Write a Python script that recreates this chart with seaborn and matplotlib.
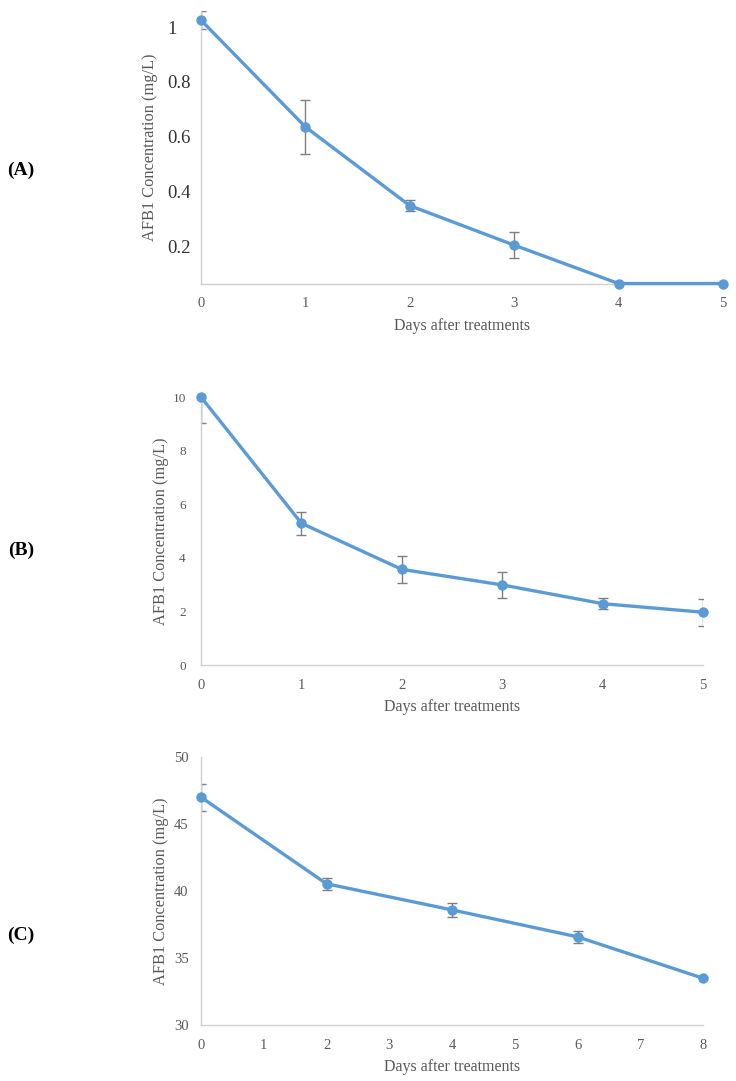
#Concentración de AFB1 vs días después de los tratamientos
import pandas as pd
import numpy as np
import seaborn as sns
import matplotlib.pyplot as plt

#Datos
days_a = [0, 1, 2, 3, 4, 5]
conc_a = [1.025, 0.636, 0.349, 0.205, 0.065, 0.065]
err_a = [0.033, 0.097, 0.02, 0.048, 0.0, 0.0]

days_b = [0, 1, 2, 3, 4, 5]
conc_b = [10.0, 5.29, 3.57, 2.99, 2.29, 1.97]
err_b = [0.95, 0.43, 0.51, 0.5, 0.2, 0.5]

days_c = [0, 2, 4, 6, 8]
conc_c = [47.0, 40.54, 38.59, 36.58, 33.49]
err_c = [1.0, 0.44, 0.5, 0.47, 0.0]

yticks_a = [0.2, 0.4, 0.6, 0.8, 1]
yticklabels_a = ['0.2', '0.4', '0.6', '0.8', '1']
yticks_b = [0, 2, 4, 6, 8, 10]
yticks_c = [30, 35, 40, 45, 50]
xticks_ab = [0, 1, 2, 3, 4, 5]
xticks_c = [0, 1, 2, 3, 4, 5, 6, 7, 8]

panel_labels = ['(A)', '(B)', '(C)']
xlabel = 'Days after treatments'
ylabel = 'AFB1 Concentration (mg/L)'

sns.set_style("white")
plt.rcParams['font.family'] = ['Liberation Serif', 'DejaVu Serif']

azul = '#5B9BD5'
gris_texto = '#595959'

fig = plt.figure(figsize=(7.36, 10.81), dpi=100)
ax_a = fig.add_axes([0.2731, 0.7377, 0.7092, 0.2525])
ax_b = fig.add_axes([0.2731, 0.3848, 0.6821, 0.2479])
ax_c = fig.add_axes([0.2731, 0.0518, 0.6821, 0.2479])

# (eje, x, y, error, ylim, yticks, etiquetas, xticks, xmax, tamaño ytick, pad ytick)
paneles = [
    (ax_a, days_a, conc_a, err_a, (0.065, 1.06), yticks_a, yticklabels_a, xticks_ab, 5, 13.5, 24),
    (ax_b, days_b, conc_b, err_b, (0, 10), yticks_b, [str(t) for t in yticks_b], xticks_ab, 5, 9.5, 11),
    (ax_c, days_c, conc_c, err_c, (30, 50), yticks_c, [str(t) for t in yticks_c], xticks_c, 8, 10.5, 9),
]

for i, (ax, x, y, e, ylim, yt, ytl, xt, xmax, ysize, ypad) in enumerate(paneles):
    df = pd.DataFrame({'dia': x, 'conc': y})
    ax.errorbar(x, y, yerr=e, fmt='none', ecolor='#7f7f7f', elinewidth=1,
                capsize=3.5, capthick=1, zorder=2)
    sns.lineplot(data=df, x='dia', y='conc', ax=ax, color=azul, linewidth=2.4,
                 marker='o', markersize=7.5, markeredgewidth=0, zorder=3, clip_on=False)
    ax.set_xlim(0, xmax)
    ax.set_ylim(*ylim)
    ax.set_xticks(xt)
    ax.set_yticks(yt)
    ax.set_yticklabels(ytl)
    ax.tick_params(axis='both', length=0)
    ax.tick_params(axis='x', pad=10, labelsize=10.5, labelcolor=gris_texto)
    ax.tick_params(axis='y', pad=ypad, labelsize=ysize, labelcolor=gris_texto)
    for s in ['top', 'right']:
        ax.spines[s].set_visible(False)
    for s in ['left', 'bottom']:
        ax.spines[s].set_color('#d0d0d0')
        ax.spines[s].set_linewidth(1)
    ax.set_xlabel(xlabel, fontsize=11.5, color=gris_texto)
    ax.set_ylabel(ylabel, fontsize=11.8, color=gris_texto)
    ax.grid(False)

# panel A: etiquetas del eje y alineadas a la izquierda y más oscuras
for t in ax_a.get_yticklabels():
    t.set_horizontalalignment('left')
    t.set_color('#333333')

ax_a.yaxis.set_label_coords(-0.083, 0.5)
ax_b.yaxis.set_label_coords(-0.063, 0.5)
ax_c.yaxis.set_label_coords(-0.063, 0.5)
ax_a.xaxis.set_label_coords(0.5, -0.125)
ax_b.xaxis.set_label_coords(0.5, -0.125)
ax_c.xaxis.set_label_coords(0.5, -0.125)

#Etiquetas de los paneles
for lab, ypix in zip(panel_labels, [170, 550, 935]):
    fig.text(21 / 736, 1 - ypix / 1081, lab, fontsize=14, fontweight='bold',
             ha='center', va='center', color='black')

fig.savefig('out.png', dpi=100, facecolor='white')
